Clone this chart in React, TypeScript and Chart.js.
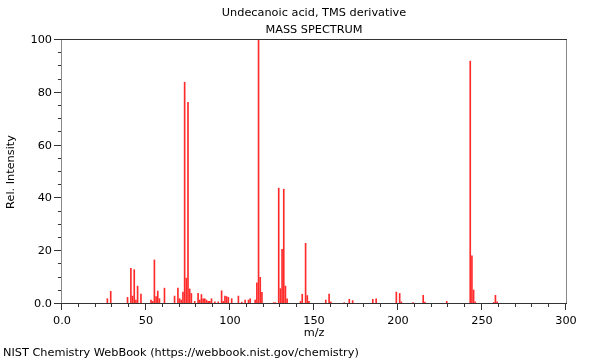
import React, { useEffect, useRef } from "react";
import { Chart, registerables } from "chart.js";

Chart.register(...registerables);

const TITLE = "Undecanoic acid, TMS derivative";
const SUBTITLE = "MASS SPECTRUM";
const FOOTER = "NIST Chemistry WebBook (https://webbook.nist.gov/chemistry)";
const X_LABEL = "m/z";
const Y_LABEL = "Rel. Intensity";

const MZ = [
  27, 29, 39, 41, 42, 43, 44, 45, 47, 53, 54, 55, 56, 57, 58, 61, 67, 69, 70, 71,
  72, 73, 74, 75, 76, 77, 79, 81, 82, 83, 84, 85, 86, 87, 88, 89, 91, 93, 95, 96,
  97, 98, 99, 101, 105, 107, 109, 111, 112, 115, 116, 117, 118, 119, 126, 127, 129, 130, 131, 132,
  133, 134, 142, 143, 145, 146, 147, 157, 159, 160, 168, 171, 173, 185, 187, 199, 201, 202, 209, 215,
  216, 229, 243, 244, 245, 246, 257, 258, 259,
];
const INTENSITY = [
  2.0, 4.8, 2.5, 13.5, 3.0, 13.0, 1.5, 6.8, 3.8, 1.5, 1.0, 16.7, 2.8, 4.9, 2.0, 6.0, 3.0, 6.0, 2.0, 1.5,
  4.5, 84.0, 9.8, 76.4, 5.7, 4.0, 1.0, 4.0, 1.5, 3.6, 2.0, 2.0, 1.5, 1.0, 1.0, 2.0, 0.8, 0.8, 5.0, 1.0,
  3.0, 2.8, 2.5, 2.0, 3.0, 0.7, 1.5, 1.5, 2.0, 1.5, 8.0, 100, 10.1, 4.4, 0.5, 0.5, 43.9, 5.8, 20.7, 43.5,
  6.8, 2.0, 1.0, 3.7, 23.0, 3.2, 1.0, 1.5, 3.8, 0.8, 0.5, 1.8, 1.3, 1.8, 2.0, 4.5, 4.0, 0.8, 0.5, 3.3,
  0.7, 1.0, 92.0, 18.2, 5.3, 0.8, 0.6, 3.3, 0.8,
];
const X_TICKS = [0, 50, 100, 150, 200, 250, 300];
const Y_TICKS = [0, 20, 40, 60, 80, 100];

const FONT = "DejaVu Sans";
const FS = 11.3;

const decorPlugin = {
  id: "nistDecor",
  afterDraw(chart: any) {
    const { ctx, chartArea: a, scales } = chart;
    const x = scales.x;
    const y = scales.y;
    ctx.save();
    ctx.lineWidth = 1;
    ctx.strokeStyle = "#888";
    ctx.beginPath();
    ctx.moveTo(a.left - 0.5, a.top - 0.5);
    ctx.lineTo(a.left - 0.5, a.bottom - 0.5);
    ctx.moveTo(a.right + 0.5, a.top - 0.5);
    ctx.lineTo(a.right + 0.5, a.bottom - 0.5);
    ctx.stroke();
    ctx.strokeStyle = "#333";
    ctx.beginPath();
    ctx.moveTo(a.left - 1, a.top - 0.5);
    ctx.lineTo(a.right + 1, a.top - 0.5);
    ctx.moveTo(a.left - 1, a.bottom - 0.5);
    ctx.lineTo(a.right + 1, a.bottom - 0.5);
    ctx.stroke();
    ctx.strokeStyle = "#333";
    ctx.beginPath();
    for (let v = 0; v <= 100; v += 5) {
      const py = Math.round(y.getPixelForValue(v)) - 0.5;
      const len = v % 20 === 0 ? 7 : 3;
      ctx.moveTo(a.left - 1 - len, py);
      ctx.lineTo(a.left - 1, py);
    }
    for (let v = 0; v <= 300; v += 10) {
      const px = Math.round(x.getPixelForValue(v)) - 0.5;
      const len = v % 50 === 0 ? 6 : 3;
      ctx.moveTo(px, a.bottom);
      ctx.lineTo(px, a.bottom + len);
    }
    ctx.stroke();
    ctx.fillStyle = "#000";
    ctx.font = `${FS}px "${FONT}"`;
    ctx.textAlign = "center";
    ctx.textBaseline = "middle";
    const cx = (a.left + a.right) / 2;
    ctx.fillText(TITLE, cx, 13);
    ctx.fillText(SUBTITLE, cx, 30);
    ctx.textAlign = "left";
    ctx.fillText(FOOTER, 3, 353);
    ctx.restore();
  },
};

export default function App() {
  const ref = useRef<HTMLCanvasElement | null>(null);
  useEffect(() => {
    if (!ref.current) return;
    Chart.defaults.font.family = FONT;
    const chart = new Chart(ref.current, {
      type: "bar",
      data: {
        datasets: [
          {
            data: MZ.map((m, i) => ({ x: m, y: INTENSITY[i] })),
            backgroundColor: "#ff2a2a",
            borderWidth: 0,
            barThickness: 1,
          },
        ],
      },
      options: {
        animation: false,
        responsive: false,
        layout: { padding: { left: 0, right: 34, top: 40, bottom: 0 } },
        plugins: { legend: { display: false }, tooltip: { enabled: false }, title: { display: false } },
        scales: {
          x: {
            type: "linear",
            min: 0,
            max: 300,
            offset: false,
            afterFit(s: any) {
              s.height = 56;
            },
            afterBuildTicks(s: any) {
              s.ticks = X_TICKS.map((v) => ({ value: v }));
            },
            border: { display: false },
            grid: { display: false, offset: false, tickLength: 6 },
            ticks: {
              padding: 4,
              color: "#000",
              maxRotation: 0,
              autoSkip: false,
              font: { family: FONT, size: FS },
              callback: (v: any) => (v === 0 ? "0.0" : String(v)),
            },
            title: {
              display: true,
              text: X_LABEL,
              color: "#000",
              font: { family: FONT, size: FS },
              padding: { top: 0, bottom: 20 },
            },
          },
          y: {
            min: 0,
            max: 100,
            afterFit(s: any) {
              s.width = 62;
            },
            afterBuildTicks(s: any) {
              s.ticks = Y_TICKS.map((v) => ({ value: v }));
            },
            border: { display: false },
            grid: { display: false, tickLength: 7 },
            ticks: {
              padding: 3,
              color: "#000",
              font: { family: FONT, size: FS },
              callback: (v: any) => (v === 0 ? "0.0" : String(v)),
            },
            title: {
              display: true,
              text: Y_LABEL,
              color: "#000",
              font: { family: FONT, size: FS },
              padding: { top: 4, bottom: 0 },
            },
          },
        },
      },
      plugins: [decorPlugin],
    });
    return () => chart.destroy();
  }, []);
  return (
    <div style={{ position: "fixed", left: 0, top: 0, width: 600, height: 360, background: "#fff" }}>
      <canvas ref={ref} width={600} height={360} style={{ display: "block" }} />
    </div>
  );
}
